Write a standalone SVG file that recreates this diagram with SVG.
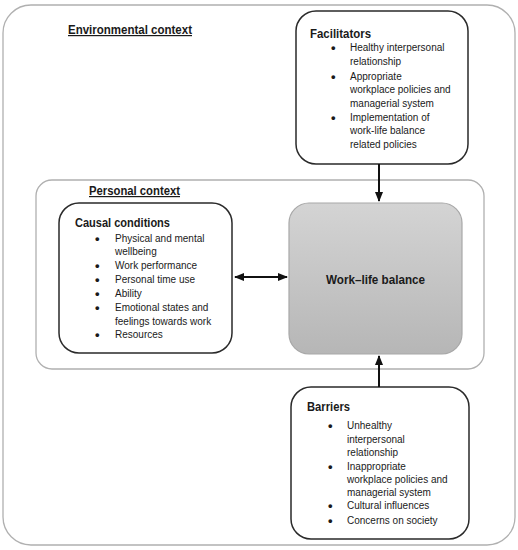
<svg xmlns="http://www.w3.org/2000/svg" width="518" height="550" viewBox="0 0 518 550">
<style>
text{font-family:"Liberation Sans",Arial,sans-serif;fill:#1a1a1a}
.h{font-weight:bold;font-size:13px}
.u{font-weight:bold;font-size:12px;text-decoration:underline}
.t{font-size:10px}
.b{font-size:13px;font-weight:bold}
.box{fill:#fff;stroke:#2a2a2a;stroke-width:1.5}
.ctx{fill:#fff;stroke:#b0b0b0;stroke-width:1.3}
.con{stroke:#111;stroke-width:2;fill:none}
</style>
<defs>
<linearGradient id="g" x1="0" y1="0" x2="0" y2="1">
<stop offset="0" stop-color="#d4d4d4"/>
<stop offset="1" stop-color="#b6b6b6"/>
</linearGradient>
<marker id="ah" viewBox="0 0 10 10" refX="9" refY="5" markerWidth="5" markerHeight="5" orient="auto-start-reverse">
<path d="M0,1 L10,5 L0,9 z" fill="#111"/>
</marker>
</defs>
<g id="environmental-context">
<rect class="ctx" x="3" y="5" width="512" height="540" rx="28"/>
<text class="u" x="68" y="34" textLength="124" lengthAdjust="spacingAndGlyphs">Environmental context</text>
</g>
<g id="personal-context">
<rect class="ctx" x="36" y="180" width="448" height="189" rx="16"/>
<text class="u" x="89" y="195" textLength="91" lengthAdjust="spacingAndGlyphs">Personal context</text>
</g>
<g id="facilitators">
<rect class="box" x="296" y="11" width="172" height="153" rx="20"/>
<text class="h" x="310" y="38" textLength="61" lengthAdjust="spacingAndGlyphs">Facilitators</text>
<g class="t">
<text class="b" x="331" y="52">•</text><text x="350" y="51">Healthy interpersonal</text>
<text x="350" y="65">relationship</text>
<text class="b" x="331" y="80.5">•</text><text x="350" y="79.5">Appropriate</text>
<text x="350" y="93">workplace policies and</text>
<text x="350" y="107">managerial system</text>
<text class="b" x="331" y="121.5">•</text><text x="350" y="120.5">Implementation of</text>
<text x="350" y="134">work-life balance</text>
<text x="350" y="147.5">related policies</text>
</g>
</g>
<g id="causal-conditions">
<rect class="box" x="59" y="203" width="173" height="150" rx="20"/>
<text class="h" x="75" y="227" textLength="95" lengthAdjust="spacingAndGlyphs">Causal conditions</text>
<g class="t">
<text class="b" x="95" y="243">•</text><text x="115" y="242">Physical and mental</text>
<text x="115" y="255">wellbeing</text>
<text class="b" x="95" y="270">•</text><text x="115" y="269">Work performance</text>
<text class="b" x="95" y="284">•</text><text x="115" y="283">Personal time use</text>
<text class="b" x="95" y="298">•</text><text x="115" y="297">Ability</text>
<text class="b" x="95" y="312">•</text><text x="115" y="311">Emotional states and</text>
<text x="115" y="324.5">feelings towards work</text>
<text class="b" x="95" y="339">•</text><text x="115" y="338">Resources</text>
</g>
</g>
<g id="work-life-balance">
<rect x="289" y="203" width="173" height="151" rx="20" fill="url(#g)" stroke="#a8a8a8" stroke-width="1.2"/>
<text class="h" x="375.5" y="284" text-anchor="middle" textLength="99" lengthAdjust="spacingAndGlyphs">Work–life balance</text>
</g>
<g id="barriers">
<rect class="box" x="291" y="387" width="178" height="152" rx="20"/>
<text class="h" x="307" y="411" textLength="43" lengthAdjust="spacingAndGlyphs">Barriers</text>
<g class="t">
<text class="b" x="328" y="430">•</text><text x="347" y="429">Unhealthy</text>
<text x="347" y="443">interpersonal</text>
<text x="347" y="456">relationship</text>
<text class="b" x="328" y="471">•</text><text x="347" y="470">Inappropriate</text>
<text x="347" y="482.5">workplace policies and</text>
<text x="347" y="496">managerial system</text>
<text class="b" x="328" y="510">•</text><text x="347" y="509">Cultural influences</text>
<text class="b" x="328" y="525">•</text><text x="347" y="524">Concerns on society</text>
</g>
</g>
<g id="connectors">
<line class="con" x1="379" y1="164" x2="379" y2="201" marker-end="url(#ah)"/>
<line class="con" x1="379" y1="387" x2="379" y2="356" marker-end="url(#ah)"/>
<line class="con" x1="235" y1="277" x2="287" y2="277" marker-start="url(#ah)" marker-end="url(#ah)"/>
</g>
</svg>
